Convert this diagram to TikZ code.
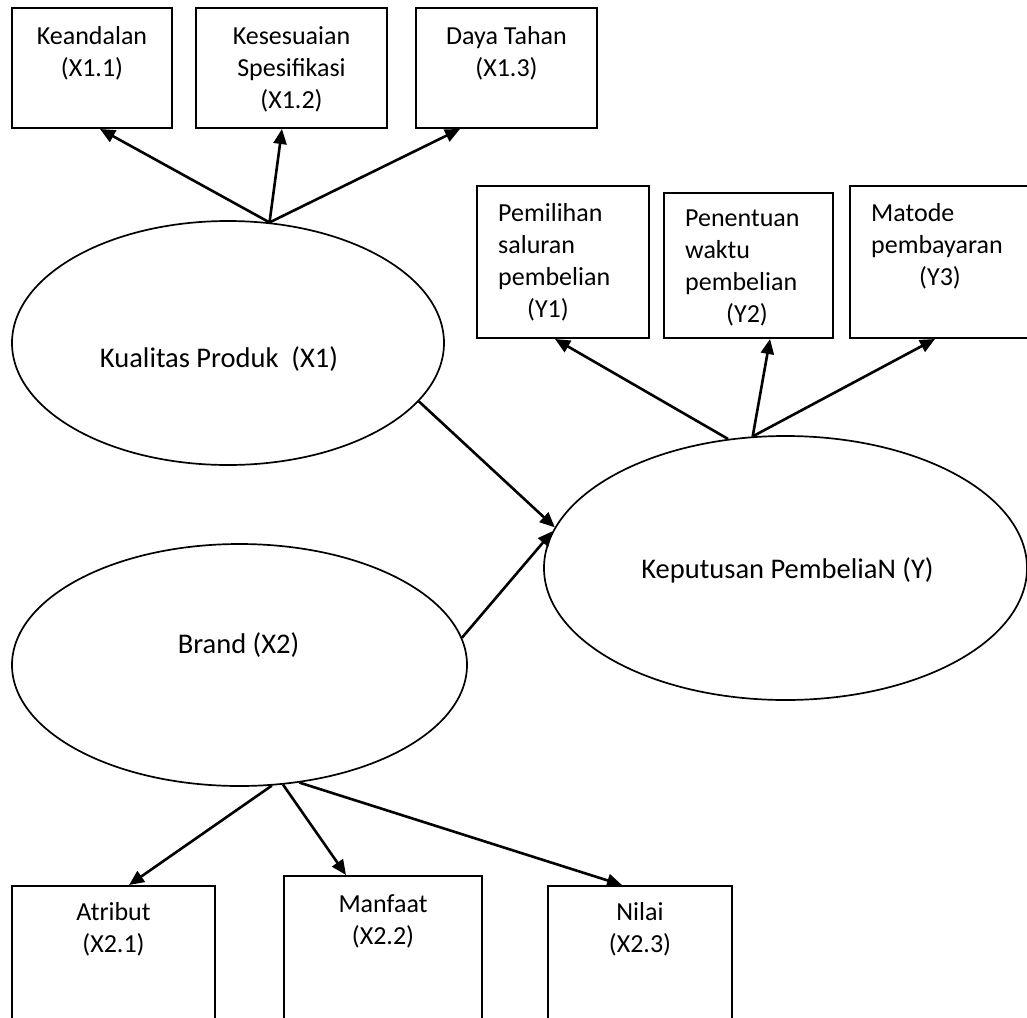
\documentclass[tikz,border=0pt]{standalone}
\usepackage{fontspec}
\setmainfont{Carlito}
\usetikzlibrary{arrows.meta,shapes.geometric,positioning}

\tikzset{
  indicator/.style={draw, line width=2pt, inner sep=0pt},
  construct/.style={draw, ellipse, line width=1.7pt, inner sep=0pt},
  indtxt/.style={anchor=north, inner sep=0pt, yshift=-19pt, align=center, font=\fontsize{26}{32}\selectfont},
  ytxt/.style={anchor=north west, inner sep=0pt, xshift=22pt, yshift=-18pt, align=left, font=\fontsize{26}{32}\selectfont},
  contxt/.style={anchor=center, inner sep=0pt, font=\fontsize{28.5}{34}\selectfont},
  link/.style={-{Triangle[length=15pt,width=13pt]}, line width=2.6pt}
}

\begin{document}
\begin{tikzpicture}[x=1pt,y=-1pt]
\useasboundingbox (0,0) rectangle (1027,1017);
\clip (0,0) rectangle (1027,1017);

% konstruk
\node[construct, minimum width=432pt, minimum height=244pt, label={[contxt, xshift=-9pt, yshift=-16pt]center:{Kualitas Produk~~(X1)}}] (kp) at (228,343) {};
\node[construct, minimum width=455pt, minimum height=242pt, label={[contxt, xshift=-1pt, yshift=20pt]center:{Brand (X2)}}] (br) at (239.5,665) {};
\node[construct, minimum width=483pt, minimum height=264pt, label={[contxt, xshift=2pt, yshift=-2pt]center:{Keputusan PembeliaN (Y)}}] (kq) at (785.5,568) {};

% indikator X1
\node[indicator, minimum width=160pt, minimum height=120pt, label={[indtxt]north:{Keandalan\\(X1.1)}}] (k1) at (92,68) {};
\node[indicator, minimum width=191pt, minimum height=120pt, label={[indtxt]north:{Kesesuaian\\Spesifikasi\\(X1.2)}}] (k2) at (291.5,68) {};
\node[indicator, minimum width=181pt, minimum height=120pt, label={[indtxt]north:{Daya Tahan\\(X1.3)}}] (k3) at (506.5,68) {};

% indikator Y
\node[indicator, minimum width=172pt, minimum height=152pt, label={[ytxt]north west:{Pemilihan\\saluran\\pembelian\\\hspace*{29pt}(Y1)}}] (y1) at (563,262) {};
\node[indicator, minimum width=169pt, minimum height=145pt, label={[ytxt]north west:{Penentuan\\waktu\\pembelian\\\hspace*{41pt}(Y2)}}] (y2) at (748.5,265.5) {};
\node[indicator, minimum width=190pt, minimum height=152pt, label={[ytxt]north west:{Matode\\pembayaran\\\hspace*{48pt}(Y3)}}] (y3) at (945,262) {};

% indikator X2
\node[indicator, minimum width=203pt, minimum height=154pt, label={[indtxt, yshift=2pt]north:{Atribut\\(X2.1)}}] (b1) at (113.5,963) {};
\node[indicator, minimum width=198pt, minimum height=164pt, label={[indtxt]north:{Manfaat\\(X2.2)}}] (b2) at (383,958) {};
\node[indicator, minimum width=184pt, minimum height=154pt, label={[indtxt, yshift=2pt]north:{Nilai\\(X2.3)}}] (b3) at (640,963) {};

\draw[link] (kp.71) -- ([xshift=8pt]k1.south);
\draw[link] (kp.71) -- ([xshift=-9.5pt]k2.south);
\draw[link] (kp.71) -- ([xshift=-46.5pt]k3.south);

\draw[link] (kq.114) -- ([xshift=-8pt]y1.south);
\draw[link] (kq.104) -- ([xshift=21.5pt]y2.south);
\draw[link] (kq.104) -- ([xshift=-10pt]y3.south);

\draw[link] (kp.-17) -- (kq.170);
\draw[link] (br.7) -- (kq.171);

\draw[link] (br.-75) -- ([xshift=15.5pt]b1.north);
\draw[link] (br.-70) -- ([xshift=-37pt]b2.north);
\draw[link] (br.-63) -- ([xshift=-18pt]b3.north);
\end{tikzpicture}
\end{document}
